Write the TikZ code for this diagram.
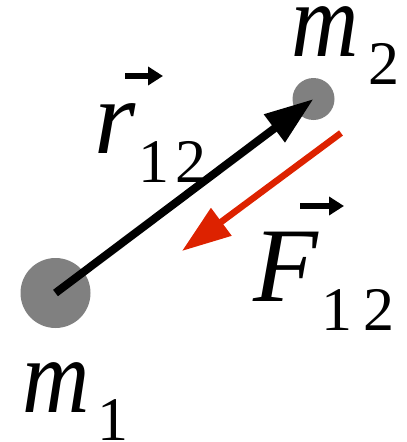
\documentclass[tikz,border=0pt]{standalone}
\usepackage{fontspec}
\setmainfont{Liberation Serif}
\usetikzlibrary{arrows.meta}
\usepackage{xcolor}
\usepackage{graphicx}
\definecolor{massc}{HTML}{808080}
\definecolor{forcec}{HTML}{DD2200}

\tikzset{
  mass/.style={circle, fill=massc, inner sep=0pt},
  bigsym/.style={inner sep=0pt, anchor=base west, font=\fontsize{106}{106}\selectfont\itshape},
  subsym/.style={inner sep=0pt, anchor=base west, font=\fontsize{62}{62}\selectfont},
  vecarrow/.style={line width=6pt, -{Triangle[length=15pt,width=18pt]}},
  bigarrow/.style={-{Triangle[length=49pt,width=33pt]}}
}
\newcommand{\narrowm}{\scalebox{0.88}[1]{m}}

\begin{document}
\begin{tikzpicture}[x=1pt, y=-1pt]
  \useasboundingbox (0,0) rectangle (407,442);
  % masses
  \node[mass, minimum size=70pt] (m1) at (55.5,293) {};
  \node[mass, minimum size=42pt] (m2) at (313.5,99) {};
  % separation vector r12
  \draw[bigarrow, line width=8pt] (m1.center) -- (m2.center);
  % force F12
  \coordinate (ftail) at (341,133);
  \coordinate (fhead) at (182,251);
  \draw[bigarrow, forcec, line width=6.5pt] (ftail) -- (fhead);
  % mass labels
  \node[bigsym] (lm2) at (291,56) {\narrowm};
  \node[subsym] (lm2s) at (368,84) {2};
  \node[bigsym] (lm1) at (22,412) {\narrowm};
  \node[subsym] (lm1s) at (97,440) {1};
  % r12 label
  \node[bigsym] (lr) at (94,153) {r};
  \node[subsym] (lrs) at (138,182) {1\kern6pt2};
  \coordinate (ra) at (125,76);
  \coordinate (rb) at (163,76);
  \draw[vecarrow] (ra) -- (rb);
  % F12 label
  \node[bigsym] (lF) at (253,301) {F};
  \node[subsym] (lFs) at (321,330) {1\kern11pt2};
  \coordinate (fa) at (300,206);
  \coordinate (fb) at (344,206);
  \draw[vecarrow] (fa) -- (fb);
\end{tikzpicture}
\end{document}
